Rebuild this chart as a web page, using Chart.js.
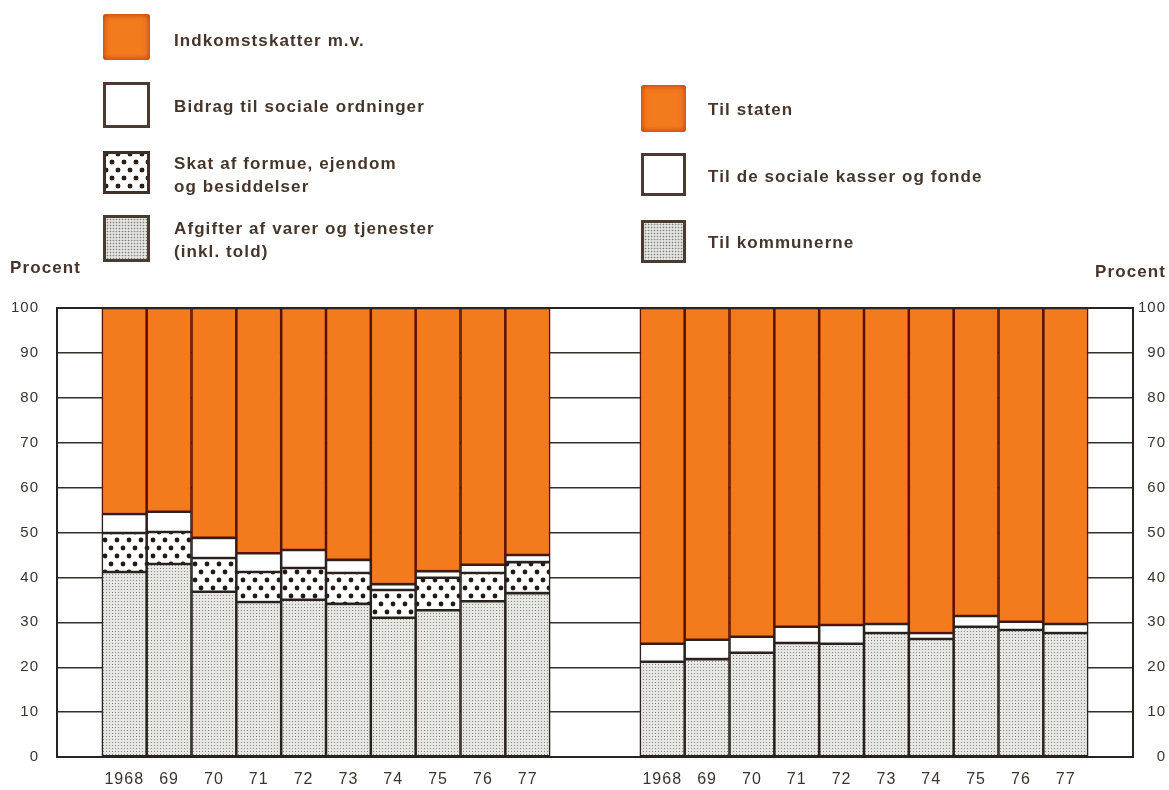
<!DOCTYPE html>
<html>
<head>
<meta charset="utf-8">
<script src="https://cdn.jsdelivr.net/npm/chart.js@4/dist/chart.umd.min.js"></script>
<style>
  html, body { margin: 0; padding: 0; background: #ffffff; }
  #wrap { position: relative; width: 1169px; height: 790px; overflow: hidden; font-family: "Liberation Sans", Arial, sans-serif; }
  #c { position: absolute; left: 0; top: 0; }
  .sw { position: absolute; box-sizing: border-box; }
  .orange { background: #f47a1e; border-radius: 3px; box-shadow: inset 0 0 6px #a8300c; }
  .white { background: #fff; border: 3px solid #4a3a30; }
  .dots { background-color: #fff; border: 3px solid #3e3029;
          background-image: radial-gradient(circle, #2a1e18 2.2px, transparent 2.7px), radial-gradient(circle, #2a1e18 2.2px, transparent 2.7px);
          background-size: 12px 16px, 12px 16px; background-position: 0 0, 6px 8px; }
  .fine { background-color: #e4e4e0; border: 3px solid #4a3a30;
          background-image: radial-gradient(circle, #808080 0.7px, transparent 1.1px);
          background-size: 3px 3px; }
  .txt { position: absolute; font-weight: bold; font-size: 17px; letter-spacing: 1.1px; color: #45352a; line-height: 23px; white-space: nowrap; }
</style>
</head>
<body>
<div id="wrap">
  <canvas id="c" width="1169" height="790"></canvas>

  <div class="sw orange" style="left:103px;top:14px;width:47px;height:46px;"></div>
  <div class="txt" style="left:174px;top:29px;">Indkomstskatter m.v.</div>
  <div class="sw white" style="left:103px;top:82px;width:47px;height:46px;"></div>
  <div class="txt" style="left:174px;top:95px;">Bidrag til sociale ordninger</div>
  <div class="sw dots" style="left:103px;top:151px;width:47px;height:43px;"></div>
  <div class="txt" style="left:174px;top:152px;">Skat af formue, ejendom<br>og besiddelser</div>
  <div class="sw fine" style="left:103px;top:215px;width:47px;height:47px;"></div>
  <div class="txt" style="left:174px;top:217px;">Afgifter af varer og tjenester<br>(inkl. told)</div>

  <div class="sw orange" style="left:641px;top:85px;width:45px;height:47px;"></div>
  <div class="txt" style="left:708px;top:98px;">Til staten</div>
  <div class="sw white" style="left:641px;top:153px;width:45px;height:43px;"></div>
  <div class="txt" style="left:708px;top:165px;">Til de sociale kasser og fonde</div>
  <div class="sw fine" style="left:641px;top:220px;width:45px;height:43px;"></div>
  <div class="txt" style="left:708px;top:231px;">Til kommunerne</div>

  <div class="txt" style="left:10px;top:256px;">Procent</div>
  <div class="txt" style="left:1095px;top:260px;">Procent</div>
</div>
<script>
// ---- Data (percent shares) ----
const yearLabels = ['1968', '69', '70', '71', '72', '73', '74', '75', '76', '77'];
// Left panel: by type of tax
const afgifter   = [41.2, 43.0, 36.8, 34.5, 35.0, 34.1, 31.0, 32.7, 34.7, 36.5];
const skatFormue = [8.7, 7.1, 7.5, 6.7, 7.1, 6.9, 6.2, 7.2, 6.3, 6.9];
const bidrag     = [4.2, 4.5, 4.5, 4.2, 4.0, 2.9, 1.3, 1.5, 1.8, 1.6];
const indkomst   = [45.9, 45.4, 51.2, 54.6, 53.9, 56.1, 61.5, 58.6, 57.2, 55.0];
// Right panel: by recipient
const kommunerne = [21.2, 21.8, 23.2, 25.4, 25.2, 27.6, 26.3, 29.0, 28.3, 27.6];
const sociale    = [4.0, 4.3, 3.6, 3.6, 4.2, 2.0, 1.3, 2.4, 1.8, 2.0];
const staten     = [74.8, 73.9, 73.2, 71.0, 70.6, 70.4, 72.4, 68.6, 69.9, 70.4];
const yTicks = [0, 10, 20, 30, 40, 50, 60, 70, 80, 90, 100];

// category layout: blank, 10 left years, 2 blanks, 10 right years, blank
const blank1 = [''];
const blank2 = ['', ''];
const labels = [...blank1, ...yearLabels, ...blank2, ...yearLabels, ...blank1];
const none10 = yearLabels.map(() => null);
const leftData  = arr => [null, ...arr, null, null, ...none10, null];
const rightData = arr => [null, ...none10, null, null, ...arr, null];

// ---- Patterns ----
function finePattern() {
  const c = document.createElement('canvas'); c.width = 3; c.height = 3;
  const x = c.getContext('2d');
  x.fillStyle = '#e6e6e2'; x.fillRect(0, 0, 3, 3);
  x.fillStyle = '#85857f'; x.fillRect(1, 1, 1, 1);
  return x.createPattern(c, 'repeat');
}
function dotPattern() {
  const c = document.createElement('canvas'); c.width = 12; c.height = 16;
  const x = c.getContext('2d');
  x.fillStyle = '#ffffff'; x.fillRect(0, 0, 12, 16);
  x.fillStyle = '#241812';
  x.beginPath(); x.arc(3, 4, 2.4, 0, Math.PI * 2); x.fill();
  x.beginPath(); x.arc(9, 12, 2.4, 0, Math.PI * 2); x.fill();
  return x.createPattern(c, 'repeat');
}
const fineP = finePattern();
const dotP = dotPattern();
const ORANGE = '#f47a1e';
const ORANGE_EDGE = '#5a1006';
const DARK = '#2a221e';
const TEXT = '#3b322c';

const common = { stack: 's', borderWidth: 1.6, borderSkipped: false, categoryPercentage: 1.0, barPercentage: 1.0 };

const framePlugin = {
  id: 'frame',
  beforeDraw(chart) { chart.ctx.letterSpacing = '1px'; },
  afterDatasetsDraw(chart) {
    const { ctx, chartArea: a } = chart;
    ctx.save();
    ctx.strokeStyle = DARK; ctx.lineWidth = 2;
    ctx.strokeRect(a.left, a.top, a.right - a.left, a.bottom - a.top);
    ctx.restore();
  }
};

new Chart(document.getElementById('c'), {
  type: 'bar',
  data: {
    labels,
    datasets: [
      { label: 'Afgifter af varer og tjenester (inkl. told)', data: leftData(afgifter), backgroundColor: fineP, borderColor: DARK, ...common },
      { label: 'Skat af formue, ejendom og besiddelser', data: leftData(skatFormue), backgroundColor: dotP, borderColor: DARK, ...common },
      { label: 'Bidrag til sociale ordninger', data: leftData(bidrag), backgroundColor: '#ffffff', borderColor: DARK, ...common },
      { label: 'Indkomstskatter m.v.', data: leftData(indkomst), backgroundColor: ORANGE, borderColor: ORANGE_EDGE, ...common },
      { label: 'Til kommunerne', data: rightData(kommunerne), backgroundColor: fineP, borderColor: DARK, ...common },
      { label: 'Til de sociale kasser og fonde', data: rightData(sociale), backgroundColor: '#ffffff', borderColor: DARK, ...common },
      { label: 'Til staten', data: rightData(staten), backgroundColor: ORANGE, borderColor: ORANGE_EDGE, ...common }
    ]
  },
  options: {
    responsive: false,
    animation: false,
    devicePixelRatio: 1,
    layout: { padding: { top: 308, right: 3, bottom: 0, left: 0 } },
    plugins: { legend: { display: false }, tooltip: { enabled: false } },
    scales: {
      x: {
        stacked: true,
        grid: { display: false, drawTicks: false },
        border: { display: false },
        ticks: { color: TEXT, font: { family: 'Liberation Sans', size: 16 }, padding: 13, maxRotation: 0, autoSkip: false },
        afterFit: s => { s.height = 33; }
      },
      y: {
        stacked: true, min: 0, max: 100,
        afterBuildTicks: s => { s.ticks = yTicks.map(v => ({ value: v })); },
        grid: { color: '#352f2b', lineWidth: 1.4, drawTicks: false },
        border: { display: false },
        ticks: { color: TEXT, font: { family: 'Liberation Sans', size: 15 }, padding: 18 },
        afterFit: s => { s.width = 57; }
      },
      y2: {
        position: 'right', min: 0, max: 100,
        afterBuildTicks: s => { s.ticks = yTicks.map(v => ({ value: v })); },
        grid: { display: false, drawTicks: false },
        border: { display: false },
        ticks: { color: TEXT, font: { family: 'Liberation Sans', size: 15 }, crossAlign: 'far', padding: 4 },
        afterFit: s => { s.width = 33; }
      }
    }
  },
  plugins: [framePlugin]
});
</script>
</body>
</html>
